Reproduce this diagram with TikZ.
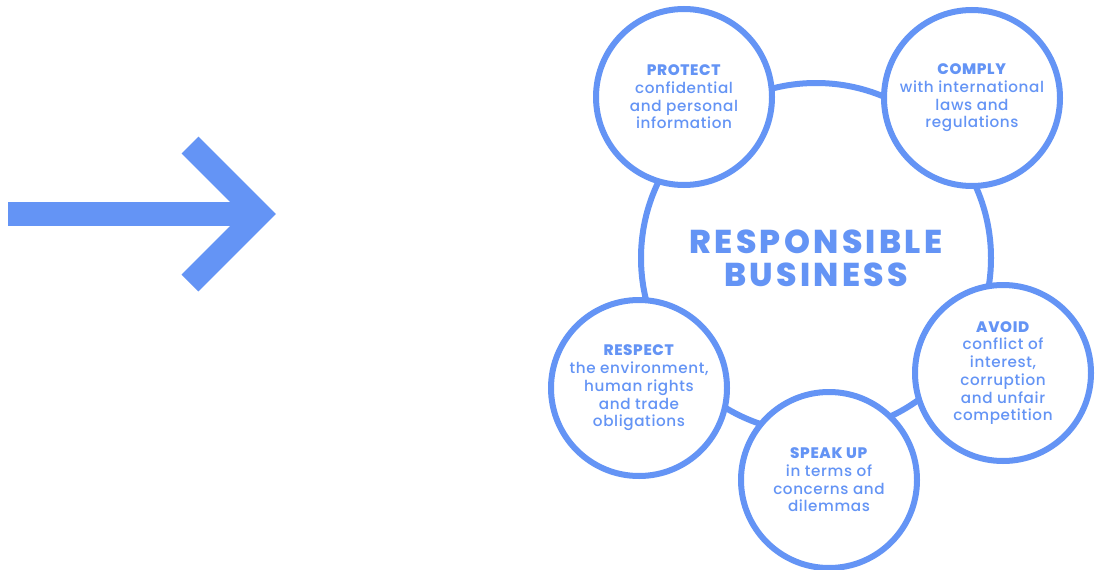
\documentclass[tikz,border=0pt]{standalone}
\usepackage{fontspec}
\setmainfont{Poppins}[UprightFont=* Medium, BoldFont=* ExtraBold]
\definecolor{rbblue}{RGB}{100,148,245}
\begin{document}
\begin{tikzpicture}[x=1pt, y=-1pt,
    bigring/.style={circle, draw=rbblue, line width=6pt, minimum size=350pt, inner sep=0pt,
      align=center, text=rbblue, font=\fontsize{33}{33}\selectfont\bfseries\addfontfeatures{LetterSpace=10}},
    valuecirc/.style={circle, draw=rbblue, fill=white, line width=6pt, minimum size=176pt,
      inner sep=0pt, align=center, text=rbblue, font=\fontsize{15.2}{17.7}\selectfont\addfontfeatures{LetterSpace=4}},
    bigarrow/.style={draw=rbblue, line width=24pt}]
  \useasboundingbox (0,0) rectangle (1098,570);
  \fill[white] (0,0) rectangle (1098,570);
  \draw[bigarrow] (8,214) -- (250,214);
  \draw[bigarrow] (190,145) -- (259,214) -- (190,283);
  \node[bigring] (core) at (816,258) {RESPONSIBLE\\BUSINESS};
  \node[valuecirc] (protect) at (684,97) {\textbf{PROTECT}\\confidential\\and personal\\information};
  \node[valuecirc] (comply) at (972,98) {\textbf{COMPLY}\\with international\\laws and\\regulations};
  \node[valuecirc] (avoid) at (1003,373) {\textbf{AVOID}\\conflict of\\interest,\\corruption\\and unfair\\competition};
  \node[valuecirc] (speakup) at (829,480) {\textbf{SPEAK UP}\\in terms of\\concerns and\\dilemmas};
  \node[valuecirc] (respect) at (639,388) {\textbf{RESPECT}\\the environment,\\human rights\\and trade\\obligations};
\end{tikzpicture}
\end{document}
